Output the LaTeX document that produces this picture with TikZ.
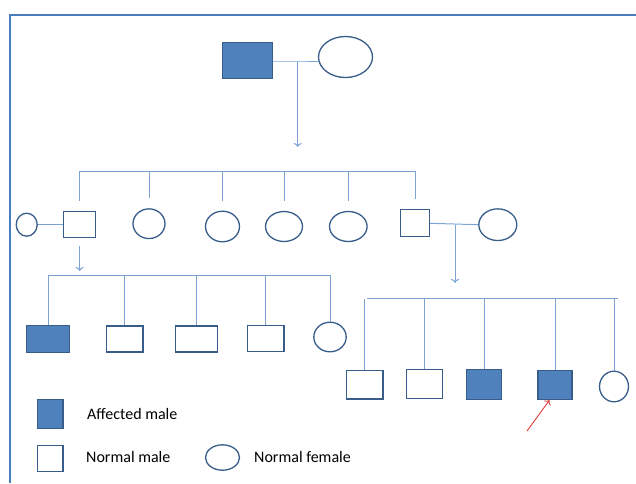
\documentclass[tikz,border=0pt]{standalone}
\usepackage{fontspec}
\setmainfont{Carlito}
\usepackage{tikz}
\usetikzlibrary{arrows,arrows.meta,shapes,positioning}

\definecolor{fillblue}{HTML}{4F81BD}
\definecolor{edgeblue}{HTML}{385D8A}
\definecolor{linkblue}{HTML}{7DA3D6}
\definecolor{frameblue}{HTML}{4A7EBB}
\definecolor{pointred}{HTML}{E0403C}

\begin{document}
\begin{tikzpicture}[x=1pt,y=-1pt,>={To[length=4pt,width=8pt]},
  male/.style={rectangle,draw=edgeblue,line width=1.3pt,inner sep=0pt,fill=white},
  female/.style={ellipse,draw=edgeblue,line width=1.3pt,inner sep=0pt,fill=white},
  affected/.style={male,fill=fillblue},
  link/.style={draw=linkblue,line width=1pt},
  legendtext/.style={anchor=base west,inner sep=0pt,font=\fontsize{16}{19}\selectfont}]
\useasboundingbox (0,0) rectangle (636,483);

% Frame
\draw[frameblue,line width=2.5pt] (10,483) -- (10,15) -- (636,15);

% Grandparents
\node[affected,minimum width=50pt,minimum height=36.5pt] (gpa) at (247.3,60.5) {};
\node[female,minimum width=54pt,minimum height=41pt] (gma) at (345.5,57) {};
\coordinate (marA) at (297.7,61);
\coordinate (sibA1) at (80,171);
\coordinate (sibA2) at (415,171);
\draw[link] (gpa.east |- marA) -- (marA) -- (marA -| gma.west);
\draw[link,->] (marA) -- (297.7,147);

% Second generation
\node[female,minimum width=21pt,minimum height=23pt] (wifeA) at (26.7,224.7) {};
\node[male,minimum width=32pt,minimum height=26pt] (sonA) at (79.7,224.7) {};
\node[female,minimum width=32pt,minimum height=29.7pt] (dauA) at (149,223.7) {};
\node[female,minimum width=34pt,minimum height=30.6pt] (dauB) at (222.5,226.5) {};
\node[female,minimum width=37pt,minimum height=30pt] (dauC) at (284,226.5) {};
\node[female,minimum width=37.6pt,minimum height=30pt] (dauD) at (348.3,226.5) {};
\node[male,minimum width=29pt,minimum height=27pt] (sonB) at (415,223.3) {};
\node[female,minimum width=38pt,minimum height=31.7pt] (wifeB) at (497.8,224.7) {};

\draw[link] (sibA1) -- (sibA2);
\foreach \kid in {sonA,dauA,dauB,dauC,dauD,sonB}
  \draw[link,shorten >=10pt] (\kid.north |- sibA1) -- (\kid.north);
\draw[link] (wifeA.east) -- (sonA.west);
\draw[link] (sonB.east) -- (wifeB.west);

% Third generation, left family
\coordinate (sibB1) at (48.5,275);
\coordinate (sibB2) at (330,275);
\draw[link,->,shorten <=8pt,shorten >=4pt] (sonA.south) -- (sonA.south |- sibB1);

\node[affected,minimum width=43pt,minimum height=26.7pt] (kidA) at (48,338.8) {};
\node[male,minimum width=36.7pt,minimum height=26pt] (kidB) at (124.5,339) {};
\node[male,minimum width=41.7pt,minimum height=26pt] (kidC) at (196.3,339) {};
\node[male,minimum width=36.7pt,minimum height=26pt] (kidD) at (265.5,338.7) {};
\node[female,minimum width=32.4pt,minimum height=29.6pt] (kidE) at (330,337) {};

\draw[link] (sibB1) -- (sibB2);
\foreach \kid in {kidA,kidB,kidC,kidD,kidE}
  \draw[link] (\kid.north |- sibB1) -- (\kid.north);

% Third generation, right family
\coordinate (marB) at (455,224.5);
\coordinate (sibC1) at (366.7,298.5);
\coordinate (sibC2) at (618.3,298.5);
\draw[link,->] (marB) -- (455,283);

\node[male,minimum width=36.3pt,minimum height=28.3pt] (kidF) at (364.7,384.7) {};
\node[male,minimum width=35.7pt,minimum height=29pt] (kidG) at (424.3,384.3) {};
\node[affected,minimum width=34.7pt,minimum height=30pt] (kidH) at (484,384.5) {};
\node[affected,minimum width=34pt,minimum height=29pt] (kidI) at (555,385) {};
\node[female,minimum width=29pt,minimum height=30.6pt] (kidJ) at (614,386.5) {};

\draw[link] (sibC1) -- (sibC2);
\foreach \kid in {kidF,kidG,kidH,kidI,kidJ}
  \draw[link] (\kid.north |- sibC1) -- (\kid.north);

% Proband
\coordinate (probe) at (527,431);
\draw[pointred,line width=0.9pt,->] (probe) -- (kidI.-110);

% Legend
\node[affected,minimum width=25.7pt,minimum height=28.7pt] (keyA) at (50,414) {};
\node[male,minimum width=25.7pt,minimum height=25.7pt] (keyM) at (50,458.3) {};
\node[female,minimum width=34pt,minimum height=25.4pt] (keyF) at (222.5,457.5) {};
\node[legendtext] (keyAtext) at (87,419) {Affected male};
\node[legendtext] (keyMtext) at (86,462.5) {Normal male};
\node[legendtext] (keyFtext) at (254,462.5) {Normal female};
\end{tikzpicture}
\end{document}
